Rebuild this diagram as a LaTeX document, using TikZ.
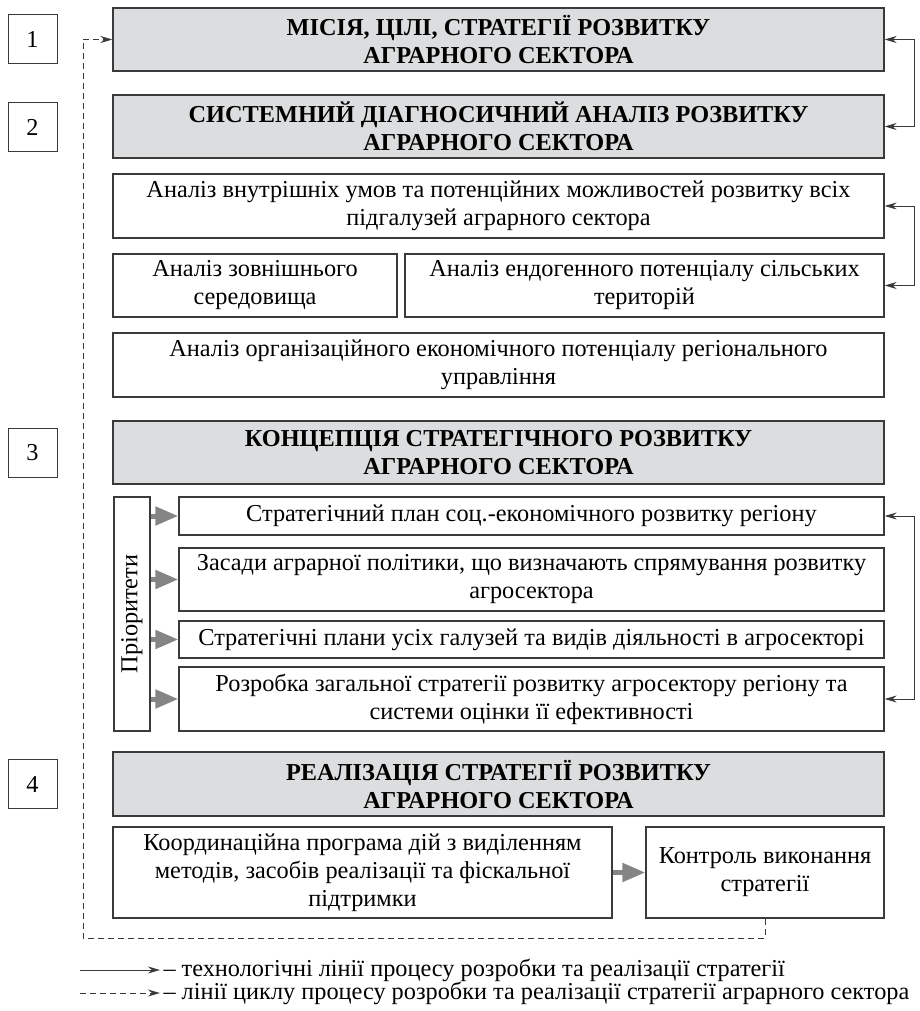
\documentclass[tikz,border=0pt]{standalone}
\usepackage{fontspec}
\setmainfont{Liberation Serif}
\usetikzlibrary{arrows.meta}
\definecolor{boxgrey}{HTML}{DCDDDE}
\definecolor{framegrey}{HTML}{3A3A3A}
\definecolor{arrowgrey}{HTML}{858585}
\newcommand{\schemefont}{\fontsize{24.3}{28}\selectfont}
\tikzset{
  box/.style={draw=framegrey,line width=1.3pt,align=center,inner sep=0pt,font=\schemefont},
  headbox/.style={box,fill=boxgrey,font=\schemefont\bfseries},
  numbox/.style={draw=framegrey,line width=1pt,minimum width=49pt,minimum height=49pt,inner sep=0pt,font=\schemefont},
  thick arrow/.style={draw=arrowgrey,line width=5pt,-{Triangle[length=23pt,width=18pt]}},
  cycle line/.style={framegrey,line width=1pt,dash pattern=on 6pt off 4pt}
}

\begin{document}
\begin{tikzpicture}[x=1pt,y=-1pt,>={Stealth[length=12pt,width=7pt]},
    font=\schemefont]
  \useasboundingbox (0,0) rectangle (919,1011);
  % stage numbers
  \node[numbox] (n1) at (32.5,39.5) {1};
  \node[numbox] (n2) at (32.5,127) {2};
  \node[numbox] (n3) at (32.5,452.5) {3};
  \node[numbox] (n4) at (32.5,784) {4};
  % stage 1 and 2
  \node[headbox,minimum width=771pt,minimum height=63pt] (mission) at (498.5,39.5)
    {МІСІЯ, ЦІЛІ, СТРАТЕГІЇ РОЗВИТКУ\\АГРАРНОГО СЕКТОРА};
  \node[headbox,minimum width=771pt,minimum height=63pt] (diag) at (498.5,126.5)
    {СИСТЕМНИЙ ДІАГНОСИЧНИЙ АНАЛІЗ РОЗВИТКУ\\АГРАРНОГО СЕКТОРА};
  \node[box,minimum width=771pt,minimum height=64pt] (inner) at (498.5,206)
    {Аналіз внутрішніх умов та потенційних можливостей розвитку всіх\\підгалузей аграрного сектора};
  \node[box,minimum width=284pt,minimum height=63pt] (outer) at (255,285.5)
    {Аналіз зовнішнього\\середовища};
  \node[box,minimum width=479pt,minimum height=63pt] (endo) at (644.5,285.5)
    {Аналіз ендогенного потенціалу сільських\\територій};
  \node[box,minimum width=771pt,minimum height=64pt] (org) at (498.5,365)
    {Аналіз організаційного економічного потенціалу регіонального\\управління};
  % stage 3
  \node[headbox,minimum width=771pt,minimum height=63pt] (concept) at (498.5,452.5)
    {КОНЦЕПЦІЯ СТРАТЕГІЧНОГО РОЗВИТКУ\\АГРАРНОГО СЕКТОРА};
  \node[box,minimum width=36pt,minimum height=234pt] (prior) at (132,614) {};
  \node[rotate=90] at (prior.center) {Пріоритети};
  \node[box,minimum width=705pt,minimum height=38pt] (plan) at (531.5,516)
    {Стратегічний план соц.-економічного розвитку регіону};
  \node[box,minimum width=705pt,minimum height=63pt] (policy) at (531.5,579.5)
    {Засади аграрної політики, що визначають спрямування розвитку\\агросектора};
  \node[box,minimum width=705pt,minimum height=37pt] (branch) at (531.5,639.5)
    {Стратегічні плани усіх галузей та видів діяльності в агросекторі};
  \node[box,minimum width=705pt,minimum height=64pt] (general) at (531.5,699)
    {Розробка загальної стратегії розвитку агросектору регіону та\\системи оцінки її ефективності};
  % stage 4
  \node[headbox,minimum width=771pt,minimum height=64pt] (realiz) at (498.5,784)
    {РЕАЛІЗАЦІЯ СТРАТЕГІЇ РОЗВИТКУ\\АГРАРНОГО СЕКТОРА};
  \node[box,minimum width=499pt,minimum height=91pt] (coord) at (362.5,872.5)
    {Координаційна програма дій з виділенням\\методів, засобів реалізації та фіскальної\\підтримки};
  \node[box,minimum width=238pt,minimum height=91pt] (control) at (765,872.5)
    {Контроль виконання\\стратегії};
  % grey arrows
  \foreach \t in {plan,policy,branch,general}
    \draw[thick arrow] (prior.east |- \t.west) -- (\t.west);
  \draw[thick arrow] (coord.east) -- (control.west);
  % technological lines
  \draw[framegrey,line width=1pt,<->] (mission.east) -- ++(30,0) |- (diag.east);
  \draw[framegrey,line width=1pt,<->] (inner.east) -- ++(30,0) |- (endo.east);
  \draw[framegrey,line width=1pt,<->] (plan.east) -- ++(30,0) |- (general.east);
  % cycle line
  \coordinate (turn) at (83,938);
  \draw[cycle line,->] (control.south) |- (turn) |- (mission.west);
  % legend
  \coordinate (l1) at (80,970);
  \coordinate (l2) at (80,993);
  \draw[framegrey,line width=1pt,->] (l1) -- ++(80,0) node[right,black,inner sep=3pt]
    {– технологічні лінії процесу розробки та реалізації стратегії};
  \draw[cycle line,->] (l2) -- ++(80,0) node[right,black,inner sep=3pt]
    {– лінії циклу процесу розробки та реалізації стратегії аграрного сектора};
\end{tikzpicture}
\end{document}
